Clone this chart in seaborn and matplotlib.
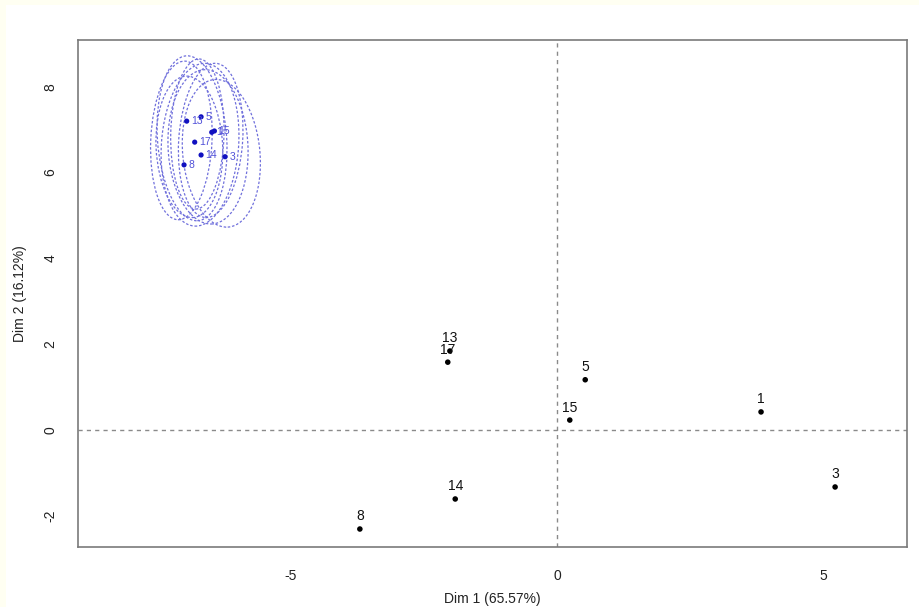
import matplotlib.pyplot as plt
import numpy as np
import pandas as pd
import seaborn as sns
from matplotlib.patches import Ellipse, Rectangle

# individuals (black)
ind_labels = ["1", "3", "5", "8", "13", "14", "15", "17"]
dim1 = [3.83, 5.22, 0.53, -3.70, -2.01, -1.91, 0.24, -2.05]
dim2 = [0.42, -1.33, 1.17, -2.31, 1.84, -1.61, 0.23, 1.58]

# supplementary cluster (blue)
sup_labels = ["13", "5", "1", "15", "17", "14", "3", "8"]
sup_dim1 = [-6.95, -6.68, -6.48, -6.43, -6.80, -6.68, -6.23, -7.00]
sup_dim2 = [7.20, 7.30, 6.94, 6.97, 6.71, 6.41, 6.37, 6.18]

# confidence ellipses around the cluster
ell_cx = [-7.05, -6.85, -6.70, -6.55, -6.30, -6.75, -6.90, -6.50]
ell_cy = [6.75, 6.80, 6.65, 6.60, 6.45, 6.90, 6.60, 6.75]
ell_w = [1.15, 1.30, 1.45, 1.50, 1.45, 1.00, 1.25, 1.20]
ell_h = [3.70, 3.85, 3.80, 3.60, 3.45, 3.50, 3.30, 3.60]
ell_angle = [-2, 3, -3, 2, 4, -1, 2, -3]

xlab = "Dim 1 (65.57%)"
ylab = "Dim 2 (16.12%)"

df = pd.DataFrame({"Dim1": dim1, "Dim2": dim2, "label": ind_labels})
sup = pd.DataFrame({"Dim1": sup_dim1, "Dim2": sup_dim2, "label": sup_labels})

sns.set_style("white")
plt.rcParams["font.family"] = ["Liberation Sans", "DejaVu Sans"]

fig = plt.figure(figsize=(9.2, 6.07), dpi=100)
fig.patch.set_facecolor("#fffff2")
fig.patches.append(Rectangle((6 / 920, 0), 1, 1 - 5 / 607, transform=fig.transFigure,
                             facecolor="white", edgecolor="none", zorder=-10))
ax = fig.add_axes([0.0848, 0.0988, 0.9011, 0.8352])

ax.axhline(0, color="#8a8a8a", lw=1, ls=(0, (3, 3)), zorder=1)
ax.axvline(0, color="#8a8a8a", lw=1, ls=(0, (3, 3)), zorder=1)

for x, y, w, h, a in zip(ell_cx, ell_cy, ell_w, ell_h, ell_angle):
    ax.add_patch(Ellipse((x, y), w, h, angle=a, fill=False, ec="#7070dc",
                         lw=0.9, ls=(0, (2, 1.5)), zorder=2))

sns.scatterplot(data=sup, x="Dim1", y="Dim2", color="#1010c0", s=14,
                edgecolor="none", ax=ax, zorder=3)
for _, r in sup.iterrows():
    ax.annotate(r["label"], (r["Dim1"], r["Dim2"]), xytext=(3, 0),
                textcoords="offset points", ha="left", va="center",
                fontsize=7.5, color="#5050d8", zorder=4)

sns.scatterplot(data=df, x="Dim1", y="Dim2", color="black", s=16,
                edgecolor="none", ax=ax, zorder=3)
for _, r in df.iterrows():
    ax.annotate(r["label"], (r["Dim1"], r["Dim2"]), xytext=(0, 4),
                textcoords="offset points", ha="center", va="bottom",
                fontsize=10, color="#111111", zorder=4)

ax.set_xlim(-8.99, 6.57)
ax.set_ylim(-2.73, 9.09)
ax.set_xticks([-5, 0, 5])
ax.set_yticks([-2, 0, 2, 4, 6, 8])
ax.set_xticklabels(["-5", "0", "5"])
ax.set_yticklabels(["-2", "0", "2", "4", "6", "8"], rotation=90, va="center")
ax.tick_params(axis="both", direction="out", length=7, width=0.9,
               color="#777777", labelsize=10, labelcolor="#222222", pad=8)
ax.tick_params(axis="x", pad=9)
for s in ax.spines.values():
    s.set_color("#7a7a7a")
    s.set_linewidth(1.2)

ax.set_xlabel(xlab, fontsize=10, color="#222222", labelpad=6)
ax.set_ylabel(ylab, fontsize=10, color="#222222", labelpad=12)

fig.savefig("out.png", dpi=100)
